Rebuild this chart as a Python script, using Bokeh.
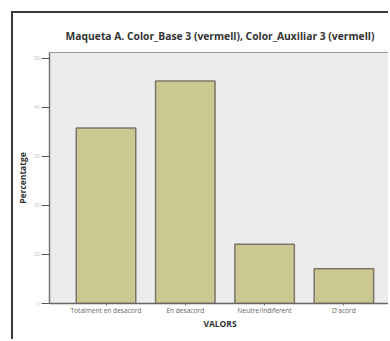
from bokeh.plotting import figure
from bokeh.models import Range1d, FixedTicker, LinearAxis
from bokeh.embed import file_html
from bokeh.resources import INLINE

categories = ["Totalment en desacord", "En desacord", "Neutre/Indiferent", "D'acord"]
percentages = [35.8, 45.4, 12.1, 7.1]
y_ticks = [0, 10, 20, 30, 40, 50]
title_text = "Maqueta A. Color_Base 3 (vermell), Color_Auxiliar 3 (vermell)"

positions = [i + 0.5 for i in range(len(categories))]

p = figure(width=377, height=328, output_backend="svg", toolbar_location=None,
           x_range=Range1d(-0.2125, 4.0875), y_range=Range1d(0, 51.2),
           min_border_left=33, min_border_right=0, min_border_top=39, min_border_bottom=38)
p.styles = {"margin-left": "11px", "margin-top": "11px",
            "border-left": "2px solid #3a3a3a", "border-top": "2px solid #3a3a3a"}

p.background_fill_color = "#ececee"
p.border_fill_color = "white"
p.outline_line_color = None
p.grid.visible = False

p.vbar(x=positions, top=percentages, width=0.75, fill_color="#cbc991",
       line_color="#7d7566", line_width=1.5)

p.title.text = title_text
p.title.align = "center"
p.title.text_font = "Open Sans"
p.title.text_font_size = "10.3px"
p.title.text_font_style = "bold"
p.title.text_color = "#333333"
p.title.standoff = 19

yax = p.yaxis[0]
yax.ticker = FixedTicker(ticks=y_ticks)
yax.axis_label = "Percentatge"
yax.axis_label_text_font = "Open Sans"
yax.axis_label_text_font_size = "8.5px"
yax.axis_label_text_font_style = "bold"
yax.axis_label_text_color = "#333333"
yax.axis_label_standoff = 3
yax.major_label_text_font_size = "5px"
yax.major_label_text_color = "#c4c4c4"
yax.major_label_standoff = 2
yax.major_tick_out = 8
yax.major_tick_in = 0
yax.minor_tick_out = 0
yax.minor_tick_in = 0
yax.major_tick_line_color = "#555555"
yax.axis_line_color = "#777777"
yax.axis_line_width = 1.5

xax = p.xaxis[0]
xax.ticker = FixedTicker(ticks=positions)
xax.major_label_overrides = {pos: cat for pos, cat in zip(positions, categories)}
xax.axis_label = "VALORS"
xax.axis_label_text_font = "Open Sans"
xax.axis_label_text_font_size = "8.5px"
xax.axis_label_text_font_style = "bold"
xax.axis_label_text_color = "#333333"
xax.axis_label_standoff = 0
xax.major_label_text_font = "Open Sans"
xax.major_label_text_font_size = "6.6px"
xax.major_label_text_color = "#666666"
xax.major_label_standoff = 0
xax.major_tick_out = 2
xax.major_tick_in = 0
xax.minor_tick_out = 0
xax.major_tick_line_color = "#777777"
xax.axis_line_color = "#666666"
xax.axis_line_width = 1.5

top = LinearAxis(ticker=FixedTicker(ticks=[]), major_label_text_font_size="0px",
                 major_tick_line_color=None, minor_tick_line_color=None,
                 axis_line_color="#999999", axis_line_width=1.2)
p.add_layout(top, "above")

open("out.html", "w").write(file_html(p, INLINE))
